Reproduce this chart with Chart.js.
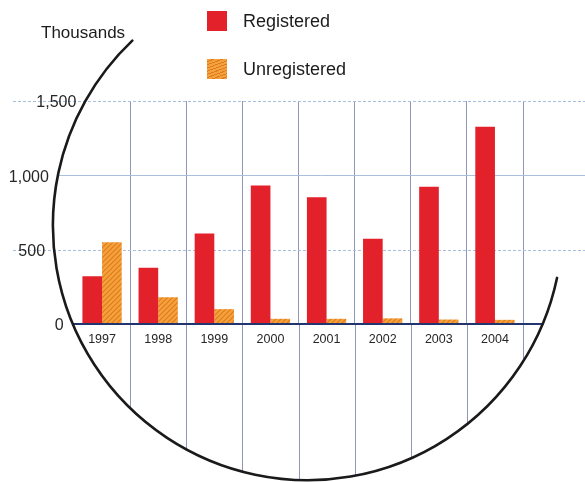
<!DOCTYPE html>
<html>
<head>
<meta charset="utf-8">
<script src="https://cdn.jsdelivr.net/npm/chart.js@4/dist/chart.umd.min.js"></script>
<style>
    body { margin: 0; background: #fff; }
    #wrap { position: relative; width: 585px; height: 482px; overflow: hidden; font-family: "Liberation Sans", Arial, sans-serif; color: #1c1c1c; }
    #unitLabel { position: absolute; left: 41px; top: 23px; font-size: 17px; }
    .legItem { position: absolute; left: 207px; height: 22px; display: flex; align-items: center; font-size: 18px; }
    .legItem span.box { width: 20px; height: 20px; margin-right: 16px; }
</style>
</head>
<body>
<div id="wrap">
    <canvas id="regChart" width="585" height="482"></canvas>
    <div id="unitLabel">Thousands</div>
    <div id="legend"></div>
</div>
<script>
// data (thousands)
const years = ['1997', '1998', '1999', '2000', '2001', '2002', '2003', '2004'];
const registered = [322, 378, 609, 931, 852, 573, 923, 1327];
const unregistered = [550, 180, 100, 35, 35, 38, 30, 28];
const seriesNames = ['Registered', 'Unregistered'];

//colours
const redColor = '#e3212a';
const orangeColor = '#f4a23c';
const stripeColor = '#e07a1e';
const hLineColor = '#a8c0de';
const vLineColor = '#8f97b6';
const zeroLineColor = '#23356e';
const textColor = '#262626';
const fontFam = "'Liberation Sans', Arial, sans-serif";

// the big decorative circle around the plot
const ring = { cx: 307.7, cy: 225.4, r: 254.8, start: 11.9, end: 226.5 };

function ringLeftX(y) {
    const dy = y - ring.cy;
    return ring.cx - Math.sqrt(ring.r * ring.r - dy * dy);
}
function ringRightX(y) {
    const dy = y - ring.cy;
    return ring.cx + Math.sqrt(ring.r * ring.r - dy * dy);
}
function ringBottomY(x) {
    const dx = x - ring.cx;
    return ring.cy + Math.sqrt(ring.r * ring.r - dx * dx);
}

//hatched fill for unregistered bars
function makeHatch() {
    const c = document.createElement('canvas');
    c.width = 5;
    c.height = 5;
    const g = c.getContext('2d');
    g.fillStyle = orangeColor;
    g.fillRect(0, 0, 5, 5);
    g.strokeStyle = stripeColor;
    g.lineWidth = 1.2;
    g.beginPath();
    g.moveTo(-1, 6); g.lineTo(6, -1);
    g.moveTo(-1, 1); g.lineTo(1, -1);
    g.moveTo(4, 6); g.lineTo(6, 4);
    g.stroke();
    return g.createPattern(c, 'repeat');
}
const hatch = makeHatch();

const decorPlugin = {
    id: 'decor',
    beforeDatasetsDraw(chart) {
        const ctx = chart.ctx;
        const area = chart.chartArea;
        const yScale = chart.scales.y;
        const xScale = chart.scales.x;
        ctx.save();
        // horizontal guide lines, running past the plot on both sides
        yScale.ticks.forEach((t) => {
            if (t.value === 0) return;
            const y = Math.round(yScale.getPixelForValue(t.value)) + 0.5;
            const dashed = t.value % 1000 !== 0;
            ctx.beginPath();
            ctx.strokeStyle = hLineColor;
            ctx.lineWidth = 1;
            ctx.setLineDash(dashed ? [3, 2] : []);
            ctx.moveTo(dashed ? 13 : ringLeftX(y), y);
            ctx.lineTo(chart.width, y);
            ctx.stroke();
        });
        ctx.setLineDash([]);
        // vertical lines continue below the axis down to the circle
        const half = (xScale.getPixelForTick(1) - xScale.getPixelForTick(0)) / 2;
        ctx.strokeStyle = vLineColor;
        ctx.lineWidth = 1;
        for (let i = 1; i <= years.length; i++) {
            const x = Math.round(xScale.getPixelForTick(i - 1) + half) + 0.5;
            ctx.beginPath();
            ctx.moveTo(x, area.bottom);
            ctx.lineTo(x, ringBottomY(x));
            ctx.stroke();
        }
        ctx.restore();
    },
    afterDatasetsDraw(chart) {
        const ctx = chart.ctx;
        const yScale = chart.scales.y;
        ctx.save();
        // zero line
        const y0 = yScale.getPixelForValue(0);
        ctx.beginPath();
        ctx.strokeStyle = zeroLineColor;
        ctx.lineWidth = 2;
        ctx.moveTo(ringLeftX(y0), y0);
        ctx.lineTo(ringRightX(y0), y0);
        ctx.stroke();

        // circle
        ctx.beginPath();
        ctx.strokeStyle = '#1a1a1a';
        ctx.lineWidth = 2.6;
        ctx.lineCap = 'round';
        ctx.arc(ring.cx, ring.cy, ring.r, ring.start * Math.PI / 180, ring.end * Math.PI / 180, false);
        ctx.stroke();

        // y tick labels, hugging the circle
        ctx.fillStyle = textColor;
        ctx.font = '16px ' + fontFam;
        ctx.textAlign = 'right';
        ctx.textBaseline = 'middle';
        yScale.ticks.forEach((t) => {
            const y = yScale.getPixelForValue(t.value);
            ctx.fillText(t.value.toLocaleString('en-US'), ringLeftX(y) - 9, y + 2);
        });
        ctx.restore();
    }
};

const chartEl = document.getElementById('regChart');

let regChart = new Chart(chartEl, {
    type: 'bar',
    data: {
        labels: years,
        datasets: [
            {
                label: seriesNames[0],
                data: registered,
                backgroundColor: redColor,
                borderWidth: 0
            },
            {
                label: seriesNames[1],
                data: unregistered,
                backgroundColor: hatch,
                borderWidth: 0
            }
        ]
    },
    options: {
        responsive: false,
        animation: false,
        devicePixelRatio: 1,
        categoryPercentage: 0.7,
        barPercentage: 1.0,
        layout: {
            padding: { left: 74, right: 62, top: 101, bottom: 128 }
        },
        plugins: {
            legend: { display: false },
            tooltip: { enabled: false }
        },
        scales: {
            x: {
                offset: true,
                grid: {
                    offset: true,
                    drawTicks: false,
                    lineWidth: 1,
                    color: (c) => c.index === 0 ? 'rgba(0,0,0,0)' : vLineColor
                },
                border: { display: false },
                ticks: {
                    color: textColor,
                    padding: 8,
                    font: { family: fontFam, size: 12.5 }
                },
                afterFit: (s) => { s.height = 30; }
            },
            y: {
                min: 0,
                max: 1500,
                ticks: { stepSize: 500, display: false },
                grid: { display: false },
                border: { display: false },
                afterFit: (s) => { s.width = 0; }
            }
        }
    },
    plugins: [decorPlugin]
});

//legend built from the datasets, stacked like the original
const legendEl = document.getElementById('legend');
const legTops = [10, 58];
regChart.data.datasets.forEach((ds, i) => {
    const item = document.createElement('div');
    item.className = 'legItem';
    item.style.top = legTops[i] + 'px';
    const box = document.createElement('span');
    box.className = 'box';
    if (i === 0) {
        box.style.background = redColor;
    } else {
        box.style.background = 'repeating-linear-gradient(160deg, ' + orangeColor + ' 0 2px, ' + stripeColor + ' 2px 3px)';
    }
    item.appendChild(box);
    item.appendChild(document.createTextNode(ds.label));
    legendEl.appendChild(item);
});
</script>
</body>
</html>
